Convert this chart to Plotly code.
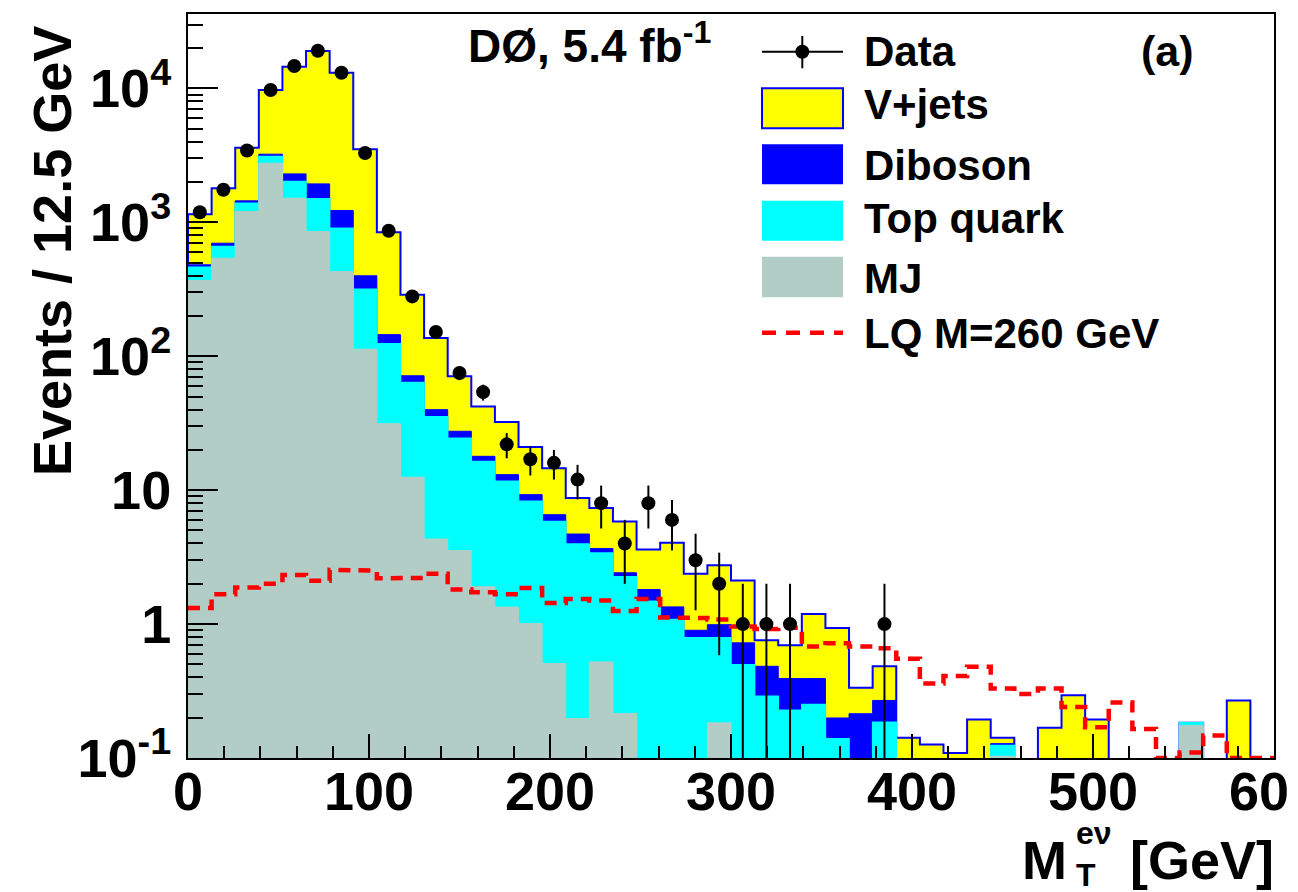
import numpy as np
import plotly.graph_objects as go

FONT = "Liberation Sans, Arial, Helvetica, sans-serif"

# ---------------- data ----------------
x_min, x_max, n_bins = 0.0, 600.0, 46

data_counts = [1190, 1750, 3440, 9750, 14700, 19100, 13100, 3300, 865, 280,
               152, 75, 54, 22, 17, 16, 12, 8, 4, 8,
               6, 3, 2, 1, 1, 1, 0, 0, 0, 1,
               0, 0, 0, 0, 0, 0, 0, 0, 0, 0,
               0, 0, 0, 0, 0, 0]

mj = [368, 540, 1204, 2766, 1516, 854, 429, 113, 31.4, 12.5,
      4.32, 3.54, 1.90, 1.34, 1.01, 0.507, 0.197, 0.522, 0.215, 0,
      0, 0, 0.183, 0, 0, 0, 0, 0, 0, 0,
      0, 0, 0, 0, 0.103, 0, 0, 0, 0, 0,
      0, 0, 0.175, 0, 0, 0]

top_quark = [95, 120, 187, 331, 500, 644, 476, 204, 92.6, 51.3,
             31.1, 20.9, 14.5, 10.3, 7.24, 5.34, 3.77, 2.88, 2.04, 1.48,
             1.08, 0.789, 0.606, 0.498, 0.289, 0.227, 0.251, 0.139, 0.05, 0.185,
             0.01, 0.01, 0.01, 0.01, 0.021, 0, 0, 0, 0, 0,
             0, 0, 0.008, 0, 0, 0]

diboson = [19, 39, 56, 131, 285, 440, 320, 82, 21, 7.7,
           4.5, 3.1, 1.5, 1.42, 1.01, 0.71, 0.74, 0.26, 0.16, 0.33,
           0.264, 0.11, 0.20, 0.226, 0.195, 0.165, 0.141, 0.06, 0.164, 0.084,
           0.01, 0.01, 0.005, 0.01, 0.004, 0, 0, 0, 0, 0,
           0, 0, 0, 0, 0, 0]

vjets = [669, 1101, 2168, 6517, 12240, 17110, 11900, 3119, 700, 216.5,
         96.8, 43.4, 24.3, 19.25, 11.74, 8.04, 4.03, 3.71, 3.41, 1.79,
         2.70, 1.48, 1.76, 1.39, 0.273, 0.303, 0.80, 0.738, 0.12, 0.215,
         0.1215, 0.106, 0.094, 0.174, 0.0135, 0, 0.168, 0.294, 0.194, 0,
         0, 0, 0, 0, 0.269, 0]

lq_signal = [1.32, 1.67, 1.88, 2.00, 2.33, 2.11, 2.54, 2.51, 2.20, 2.21,
             2.38, 1.81, 1.73, 1.67, 1.86, 1.44, 1.54, 1.50, 1.25, 1.54,
             1.12, 1.11, 1.08, 0.96, 0.92, 0.94, 0.68, 0.72, 0.68, 0.66,
             0.55, 0.36, 0.41, 0.48, 0.33, 0.30, 0.33, 0.24, 0.17, 0.26,
             0.165, 0.10, 0.11, 0.147, 0.10, 0.10]

y_tickvals = [0.1, 1, 10, 100, 1000, 10000]
y_ticktext = ["10<sup>-1</sup>", "1", "10", "10<sup>2</sup>", "10<sup>3</sup>", "10<sup>4</sup>"]

legend_labels = ["Data", "V+jets", "Diboson", "Top quark", "MJ", "LQ M=260 GeV"]

# ---------------- colours ----------------
C_V = "#ffff00"
C_DIB = "#0000ff"
C_TOP = "#00ffff"
C_MJ = "#b2cdc5"
C_LQ = "#ff0000"

edges = np.linspace(x_min, x_max, n_bins + 1)
centers = 0.5 * (edges[:-1] + edges[1:])
FLOOR = 1e-3

def step_path(vals, closed=False):
    xs, ys = [], []
    for i, v in enumerate(vals):
        v = max(v, FLOOR)
        xs += [edges[i], edges[i + 1]]
        ys += [v, v]
    if closed:
        xs = [edges[0]] + xs + [edges[-1]]
        ys = [FLOOR] + ys + [FLOOR]
    return xs, ys

mj_a = np.array(mj, float)
c_top = mj_a + np.array(top_quark, float)
c_dib = c_top + np.array(diboson, float)
c_tot = c_dib + np.array(vjets, float)

fig = go.Figure()

# stacked histograms, drawn largest cumulative first
for cum, fillc, linec, lw in [(c_tot, C_V, C_DIB, 2),
                              (c_dib, C_DIB, C_DIB, 1),
                              (c_top, C_TOP, C_TOP, 1.5),
                              (mj_a, C_MJ, C_MJ, 1)]:
    xs, ys = step_path(cum, closed=True)
    fig.add_trace(go.Scatter(x=xs, y=ys, mode="lines", fill="toself",
                             fillcolor=fillc, line=dict(color=linec, width=lw),
                             hoverinfo="skip", showlegend=False))

# LQ signal
xs, ys = step_path(lq_signal)
fig.add_trace(go.Scatter(x=xs, y=ys, mode="lines",
                         line=dict(color=C_LQ, width=4.5, dash="12px,8px"),
                         hoverinfo="skip", showlegend=False))

# data points
d = np.array(data_counts, float)
m = d > 0
err_up = np.sqrt(d[m])
err_dn = d[m] - np.maximum(d[m] - np.sqrt(d[m]), FLOOR)
fig.add_trace(go.Scatter(x=centers[m], y=d[m], mode="markers",
                         marker=dict(color="black", size=14),
                         error_y=dict(type="data", symmetric=False, array=err_up,
                                      arrayminus=err_dn, color="black",
                                      thickness=2, width=0),
                         showlegend=False))

# ---------------- layout ----------------
# the page adds an 8px body margin; plot area targeted at page px 188..1274 x 14..758
OFF = 8
PL, PR, PT, PB = 188, 1274, 14, 758
W, H = 1298 - OFF, 892 - OFF
L, T = PL - OFF, PT - OFF
R, B = W - (PR - OFF), H - (PB - OFF)
PW, PH = PR - PL, PB - PT

def px(xp):
    return (xp - PL) / PW

def py(yp):
    return (PB - yp) / PH

minor_y = [k * 10.0 ** e for e in range(-1, 5) for k in range(2, 10) if k * 10.0 ** e < 36000]

fig.update_layout(width=W, height=H, margin=dict(l=L, r=R, t=T, b=B, autoexpand=False),
                  plot_bgcolor="white", paper_bgcolor="white", showlegend=False)

fig.update_xaxes(range=[x_min, x_max], showline=True, linecolor="black", linewidth=2,
                 mirror=True, ticks="inside", ticklen=24, tickwidth=2, tickcolor="black",
                 tick0=0, dtick=100, showgrid=False, zeroline=False, automargin=False,
                 minor=dict(ticks="inside", ticklen=12, tickwidth=2, tickcolor="black",
                            dtick=20, showgrid=False),
                 tickfont=dict(family=FONT, size=54, color="black", weight="bold"),
                 ticklabelstandoff=-15, ticklabeloverflow="allow")

fig.update_yaxes(type="log", range=[-1, 4.556], showline=True, linecolor="black",
                 linewidth=2, mirror=True, ticks="inside", ticklen=30, tickwidth=2,
                 tickcolor="black", tickvals=y_tickvals, ticktext=y_ticktext,
                 showgrid=False, zeroline=False, automargin=False,
                 minor=dict(ticks="inside", ticklen=15, tickwidth=2, tickcolor="black",
                            tickvals=minor_y, showgrid=False),
                 tickfont=dict(family=FONT, size=54, color="black", weight="bold"),
                 ticklabelstandoff=4)

shapes = []
ann = []

def text(s, x, y, size, xanchor="left", yanchor="middle", angle=0, align="left"):
    ann.append(dict(text=s, xref="paper", yref="paper", x=x, y=y, xanchor=xanchor,
                    yanchor=yanchor, showarrow=False, textangle=angle, align=align,
                    font=dict(family=FONT, size=size, color="black", weight="bold")))

# legend glyphs
lx0, lx1, lxc = px(762), px(843), px(802.3)
shapes.append(dict(type="line", xref="paper", yref="paper", x0=lx0, x1=lx1,
                   y0=py(51.7), y1=py(51.7), line=dict(color="black", width=2)))
shapes.append(dict(type="line", xref="paper", yref="paper", x0=lxc, x1=lxc,
                   y0=py(36), y1=py(68.3), line=dict(color="black", width=2)))
shapes.append(dict(type="circle", xref="paper", yref="paper", xsizemode="pixel",
                   ysizemode="pixel", xanchor=lxc, yanchor=py(51.7),
                   x0=-7, x1=7, y0=-7, y1=7, fillcolor="black", line=dict(width=0)))
for (y0, y1, fc, lc, lw) in [(88.3, 128.3, C_V, C_DIB, 2),
                             (144.3, 184.3, C_DIB, C_DIB, 0),
                             (200.7, 240.7, C_TOP, C_TOP, 0),
                             (256.7, 297.3, C_MJ, C_MJ, 0)]:
    shapes.append(dict(type="rect", xref="paper", yref="paper", x0=lx0, x1=lx1,
                       y0=py(y1), y1=py(y0), fillcolor=fc,
                       line=dict(color=lc, width=lw)))
shapes.append(dict(type="line", xref="paper", yref="paper", x0=lx0, x1=lx1,
                   y0=py(332.7), y1=py(332.7),
                   line=dict(color=C_LQ, width=4.5, dash="14px,10px")))

for lab, yc in zip(legend_labels, [51.7, 104.2, 165.3, 219, 278.3, 333.8]):
    text(lab, px(862), py(yc), 42)

text("(a)", px(1196), py(50.8), 43, xanchor="right")
text("DØ, 5.4 fb<sup>-1</sup>", px(466), py(43), 46)

# axis titles
text("Events / 12.5 GeV", px(52), py(24), 54, xanchor="center", yanchor="top", angle=-90)
text("M", px(1069), py(860), 54, xanchor="right")
text("eν<br>T", px(1074), py(854), 32)
text("[GeV]", px(1276), py(860), 54, xanchor="right")

fig.update_layout(shapes=shapes, annotations=ann)

fig.write_html("out.html")
